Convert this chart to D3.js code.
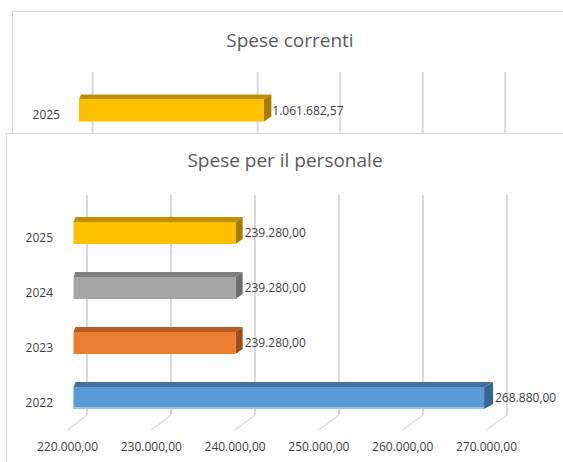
<!DOCTYPE html>
<html>
<head>
<meta charset="utf-8">
<script src="https://cdn.jsdelivr.net/npm/d3@7"></script>
<style>
  body { margin: 0; background: #fff; }
  svg { display: block; font-family: "Open Sans", sans-serif; }
  .title { font-size: 19px; fill: #595959; }
  .lbl { font-size: 12px; fill: #404040; }
  .grid { stroke: #d9d9d9; stroke-width: 2; }
  .box { fill: #fff; stroke: #d9d9d9; stroke-width: 1; }
</style>
</head>
<body>
<div id="chart"></div>
<script>
// top chart (mostly hidden behind the second one)
var topYears = ["2025"];
var topValues = [1061682.57];
var topLabels = ["1.061.682,57"];
var topGridTicks = [1040000, 1060000, 1070000, 1080000, 1090000, 1100000];

// bottom chart
var years = ["2025", "2024", "2023", "2022"];
var values = [239280, 239280, 239280, 268880];
var valueLabels = ["239.280,00", "239.280,00", "239.280,00", "268.880,00"];
var ticks = [220000, 230000, 240000, 250000, 260000, 270000];
var tickLabels = ["220.000,00", "230.000,00", "240.000,00", "250.000,00", "260.000,00", "270.000,00"];

var colors = {
  "2025": { front: "#ffc000", top: "#bf9000", side: "#a67c00", edge: null },
  "2024": { front: "#a5a5a5", top: "#7f7f7f", side: "#6d6d6d", edge: null },
  "2023": { front: "#ed7d31", top: "#b55d22", side: "#9c4d1a", edge: null },
  "2022": { front: "#5b9bd5", top: "#41719c", side: "#3a6591", edge: "#9dc3e6" }
};

var W = 563, H = 462;

var svg = d3.select("#chart").append("svg")
  .attr("width", W)
  .attr("height", H);

// draws one fake-3D bar: front face, top face, side face
function bar3d(g, x0, x1, y, h, c) {
  var dy = 5;
  var dx = 6 + 3 * (x1 - 74) / 410;
  g.append("path")
    .attr("d", "M" + x0 + "," + y + "L" + (x0 + 2) + "," + (y - dy) + "L" + (x1 + dx) + "," + (y - dy) + "L" + x1 + "," + y + "Z")
    .attr("fill", c.top);
  g.append("path")
    .attr("d", "M" + x1 + "," + y + "L" + (x1 + dx) + "," + (y - dy) + "L" + (x1 + dx) + "," + (y + h - dy) + "L" + x1 + "," + (y + h) + "Z")
    .attr("fill", c.side);
  g.append("rect")
    .attr("x", x0)
    .attr("y", y)
    .attr("width", x1 - x0)
    .attr("height", h)
    .attr("fill", c.front);
  if (c.edge) {
    g.append("rect")
      .attr("x", x0)
      .attr("y", y + h - 2)
      .attr("width", x1 - x0)
      .attr("height", 2)
      .attr("fill", c.edge);
  }
  return dx;
}

// ---------------- top chart ----------------
var gTop = svg.append("g");

gTop.append("rect")
  .attr("class", "box")
  .attr("x", 12.5)
  .attr("y", 11.5)
  .attr("width", 620)
  .attr("height", 200);

gTop.append("text")
  .attr("class", "title")
  .attr("x", 290)
  .attr("y", 40)
  .attr("dy", "0.35em")
  .attr("text-anchor", "middle")
  .text("Spese correnti");

var xTopBack = d3.scaleLinear()
  .domain([1040000, 1100000])
  .range([92.7, 92.7 + 6 * 82.5]);
var xTop = d3.scaleLinear()
  .domain([1040000, 1100000])
  .range([79, 79 + 6 * 85.3]);
var yTop = d3.scaleBand()
  .domain(topYears)
  .range([83, 138])
  .paddingInner(0.6)
  .paddingOuter(0.3);

gTop.selectAll(".tgrid")
  .data(topGridTicks)
  .enter()
  .append("line")
  .attr("class", "grid")
  .attr("x1", function(d) { return xTopBack(d); })
  .attr("x2", function(d) { return xTopBack(d); })
  .attr("y1", 72)
  .attr("y2", 140);

topYears.forEach(function(yr, i) {
  var yy = yTop(yr), h = yTop.bandwidth();
  var x0 = xTop(xTop.domain()[0]), x1 = xTop(topValues[i]);
  var dx = bar3d(gTop, x0, x1, yy, h, colors[yr]);
  gTop.append("text")
    .attr("class", "lbl")
    .attr("x", x1 + dx + 1)
    .attr("y", yy + h / 2)
    .attr("dy", "0.35em")
    .text(topLabels[i]);
  gTop.append("text")
    .attr("class", "lbl")
    .attr("x", 60)
    .attr("y", yy + h / 2 + 4.5)
    .attr("dy", "0.35em")
    .attr("text-anchor", "end")
    .text(yr);
});

// ---------------- bottom chart ----------------
var g = svg.append("g");

g.append("rect")
  .attr("class", "box")
  .attr("x", 6.5)
  .attr("y", 133.5)
  .attr("width", 620)
  .attr("height", 400);

g.append("text")
  .attr("class", "title")
  .attr("x", 285)
  .attr("y", 160)
  .attr("dy", "0.35em")
  .attr("text-anchor", "middle")
  .text("Spese per il personale");

// back wall, bar plane and front edge of the floor
var xBack = d3.scaleLinear().domain([220000, 270000]).range([87, 507]);
var x = d3.scaleLinear().domain([220000, 270000]).range([73.5, 493.5]);
var xFront = d3.scaleLinear().domain([220000, 270000]).range([67.5, 486.5]);

var y = d3.scaleBand()
  .domain(years)
  .range([205.5, 425.5])
  .paddingInner(0.6)
  .paddingOuter(0.3);

g.selectAll(".vgrid")
  .data(ticks)
  .enter()
  .append("line")
  .attr("class", "grid")
  .attr("x1", function(d) { return xBack(d); })
  .attr("x2", function(d) { return xBack(d); })
  .attr("y1", 195)
  .attr("y2", 415);

g.selectAll(".floor")
  .data(ticks)
  .enter()
  .append("line")
  .attr("stroke", "#dcdcdc")
  .attr("stroke-width", 1.5)
  .attr("x1", function(d) { return xBack(d); })
  .attr("x2", function(d) { return xFront(d); })
  .attr("y1", 415)
  .attr("y2", 430);

g.selectAll(".tick")
  .data(ticks)
  .enter()
  .append("text")
  .attr("class", "lbl")
  .attr("x", function(d) { return xFront(d); })
  .attr("y", 447)
  .attr("dy", "0.35em")
  .attr("text-anchor", "middle")
  .text(function(d, i) { return tickLabels[i]; });

years.forEach(function(yr, i) {
  var yy = y(yr), h = y.bandwidth();
  var x0 = x(x.domain()[0]), x1 = x(values[i]);
  var dx = bar3d(g, x0, x1, yy, h, colors[yr]);
  g.append("text")
    .attr("class", "lbl")
    .attr("x", x1 + dx + 2)
    .attr("y", yy + h / 2)
    .attr("dy", "0.35em")
    .text(valueLabels[i]);
  g.append("text")
    .attr("class", "lbl")
    .attr("x", 53)
    .attr("y", yy + h / 2 + 4.5)
    .attr("dy", "0.35em")
    .attr("text-anchor", "end")
    .text(yr);
});
</script>
</body>
</html>
